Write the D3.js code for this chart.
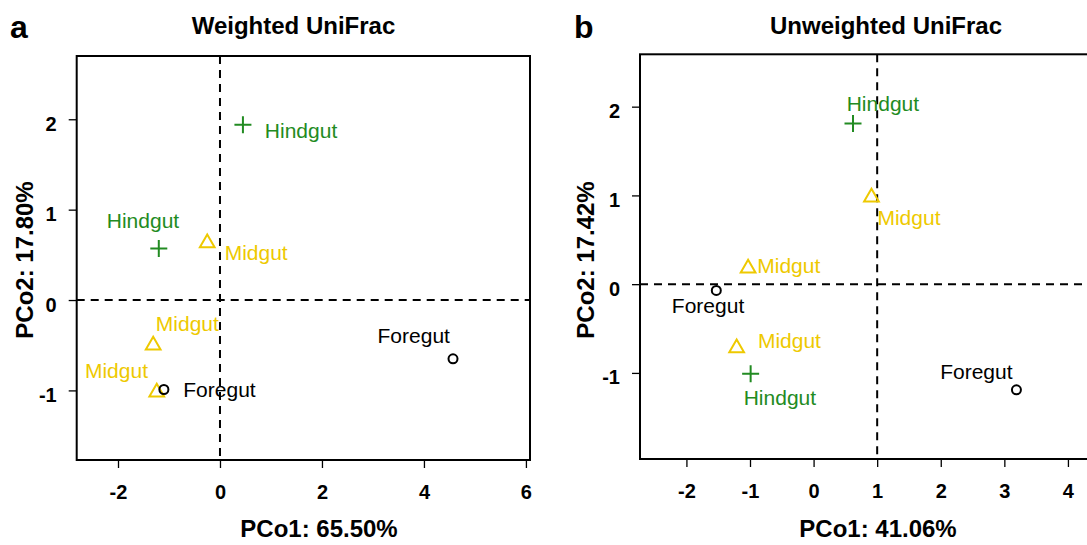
<!DOCTYPE html>
<html>
<head>
<meta charset="utf-8">
<script src="https://cdn.jsdelivr.net/npm/d3@7"></script>
<style>
  html, body { margin: 0; padding: 0; background: #fff; }
  svg { display: block; font-family: "Liberation Sans", Arial, Helvetica, sans-serif; }
</style>
</head>
<body>
<svg id="chart" width="1087" height="545"></svg>
<script>
// ---- Panel a: Weighted UniFrac ----
const weightedGroups = ["Hindgut", "Hindgut", "Midgut", "Midgut", "Midgut", "Foregut", "Foregut"];
const weightedPCo1   = [0.45, -1.20, -0.25, -1.31, -1.24, -1.10, 4.57];
const weightedPCo2   = [1.94, 0.57, 0.63, -0.50, -1.02, -0.99, -0.65];
// text() anchor coordinates for each point label (data units, centred)
const weightedLabelX = [1.59, -1.51, 0.71, -0.64, -2.03, -0.01, 3.80];
const weightedLabelY = [1.88, 0.88, 0.53, -0.26, -0.78, -0.99, -0.39];
const weightedXTicks = [-2, 0, 2, 4, 6];
const weightedYTicks = [-1, 0, 1, 2];

// ---- Panel b: Unweighted UniFrac ----
const unweightedGroups = ["Hindgut", "Midgut", "Midgut", "Foregut", "Midgut", "Hindgut", "Foregut"];
const unweightedPCo1   = [0.62, 0.91, -1.03, -1.53, -1.21, -0.99, 3.19];
const unweightedPCo2   = [1.81, 0.98, 0.18, -0.07, -0.72, -1.01, -1.19];
const unweightedLabelX = [1.09, 1.50, -0.39, -1.66, -0.38, -0.53, 2.56];
const unweightedLabelY = [2.04, 0.75, 0.21, -0.24, -0.63, -1.28, -0.98];
const unweightedXTicks = [-2, -1, 0, 1, 2, 3, 4];
const unweightedYTicks = [-1, 0, 1, 2];

const groupColor = { Hindgut: "#228B22", Midgut: "#EEC900", Foregut: "#000000" };

const svg = d3.select("#chart");

function drawPanel(cfg) {
  const x = d3.scaleLinear().domain(cfg.xDomain).range([cfg.left, cfg.right]);
  const y = d3.scaleLinear().domain(cfg.yDomain).range([cfg.bottom, cfg.top]);
  const g = svg.append("g");

  // reference lines through the origin (or the chosen centre)
  g.append("line")
    .attr("x1", x(cfg.vLine)).attr("x2", x(cfg.vLine))
    .attr("y1", cfg.top).attr("y2", cfg.bottom)
    .attr("stroke", "#000").attr("stroke-width", 2).attr("stroke-dasharray", "8,6");
  g.append("line")
    .attr("x1", cfg.left).attr("x2", cfg.right)
    .attr("y1", y(0)).attr("y2", y(0))
    .attr("stroke", "#000").attr("stroke-width", 2).attr("stroke-dasharray", "8,6");

  // axes
  const xAxis = d3.axisBottom(x).tickValues(cfg.xTicks).tickSize(8).tickPadding(17)
    .tickFormat(d3.format("d"));
  const gx = g.append("g").attr("transform", `translate(0,${cfg.bottom})`).call(xAxis);
  const yAxis = d3.axisLeft(y).tickValues(cfg.yTicks).tickSize(8).tickPadding(12)
    .tickFormat(d3.format("d"));
  const gy = g.append("g").attr("transform", `translate(${cfg.left},0)`).call(yAxis);
  [gx, gy].forEach(a => {
    a.select(".domain").remove();
    a.selectAll(".tick line").attr("stroke", "#000").attr("stroke-width", 1.3);
    a.selectAll(".tick text")
      .attr("fill", "#000")
      .style("font-size", "20px").style("font-weight", "bold")
      .style("font-family", "'Liberation Sans', Arial, sans-serif");
  });
  gy.selectAll(".tick text").attr("dy", "0.55em");
  gx.selectAll(".tick text").text(d => d3.format("d")(d).replace("−", "-"));
  gy.selectAll(".tick text").text(d => d3.format("d")(d).replace("−", "-"));

  // plot box
  g.append("rect")
    .attr("x", cfg.left).attr("y", cfg.top)
    .attr("width", cfg.right - cfg.left).attr("height", cfg.bottom - cfg.top)
    .attr("fill", "none").attr("stroke", "#000").attr("stroke-width", 2);

  // points
  const pts = cfg.groups.map((grp, i) => ({
    grp, px: cfg.pco1[i], py: cfg.pco2[i], lx: cfg.labelX[i], ly: cfg.labelY[i]
  }));
  pts.forEach(p => {
    const cx = x(p.px), cy = y(p.py), col = groupColor[p.grp];
    if (p.grp === "Hindgut") {
      const h = 8.5;
      g.append("path")
        .attr("d", `M${cx - h},${cy}H${cx + h}M${cx},${cy - h}V${cy + h}`)
        .attr("stroke", col).attr("stroke-width", 2).attr("fill", "none");
    } else if (p.grp === "Midgut") {
      const r = 8.5, xc = r * Math.sqrt(3) / 2;
      g.append("path")
        .attr("d", `M${cx},${cy - r}L${cx + xc},${cy + r / 2}L${cx - xc},${cy + r / 2}Z`)
        .attr("stroke", col).attr("stroke-width", 2).attr("fill", "none");
    } else {
      g.append("circle")
        .attr("cx", cx).attr("cy", cy).attr("r", 4.5)
        .attr("stroke", col).attr("stroke-width", 2).attr("fill", "none");
    }
  });

  // point labels
  g.selectAll("text.ptlabel").data(pts).enter().append("text")
    .attr("class", "ptlabel")
    .attr("x", d => x(d.lx)).attr("y", d => y(d.ly))
    .attr("text-anchor", "middle").attr("dy", "0.36em")
    .attr("fill", d => groupColor[d.grp])
    .style("font-size", "21px")
    .text(d => d.grp);

  // title, panel letter, axis titles
  svg.append("text").attr("x", cfg.titleX).attr("y", 34)
    .attr("text-anchor", "middle").style("font-size", "24px").style("font-weight", "bold")
    .text(cfg.title);
  svg.append("text").attr("x", cfg.letterX).attr("y", 38)
    .style("font-size", "32px").style("font-weight", "bold")
    .text(cfg.letter);
  svg.append("text").attr("x", cfg.xTitleX).attr("y", 537)
    .attr("text-anchor", "middle").style("font-size", "24px").style("font-weight", "bold")
    .text(cfg.xTitle);
  svg.append("text")
    .attr("transform", `translate(${cfg.yTitleX},260) rotate(-90)`)
    .attr("text-anchor", "middle").style("font-size", "24px").style("font-weight", "bold")
    .text(cfg.yTitle);
}

drawPanel({
  groups: weightedGroups, pco1: weightedPCo1, pco2: weightedPCo2,
  labelX: weightedLabelX, labelY: weightedLabelY,
  xTicks: weightedXTicks, yTicks: weightedYTicks,
  xDomain: [-2.81, 6.08], yDomain: [-1.77, 2.70],
  left: 76.7, right: 530, top: 56, bottom: 460,
  vLine: 0,
  title: "Weighted UniFrac", titleX: 293.5,
  letter: "a", letterX: 10,
  xTitle: "PCo1: 65.50%", xTitleX: 319,
  yTitle: "PCo2: 17.80%", yTitleX: 33
});

drawPanel({
  groups: unweightedGroups, pco1: unweightedPCo1, pco2: unweightedPCo2,
  labelX: unweightedLabelX, labelY: unweightedLabelY,
  xTicks: unweightedXTicks, yTicks: unweightedYTicks,
  xDomain: [-2.73, 4.41], yDomain: [-1.97, 2.59],
  left: 640, right: 1094, top: 54.3, bottom: 459,
  vLine: 1,
  title: "Unweighted UniFrac", titleX: 886,
  letter: "b", letterX: 574,
  xTitle: "PCo1: 41.06%", xTitleX: 878,
  yTitle: "PCo2: 17.42%", yTitleX: 594
});
</script>
</body>
</html>
